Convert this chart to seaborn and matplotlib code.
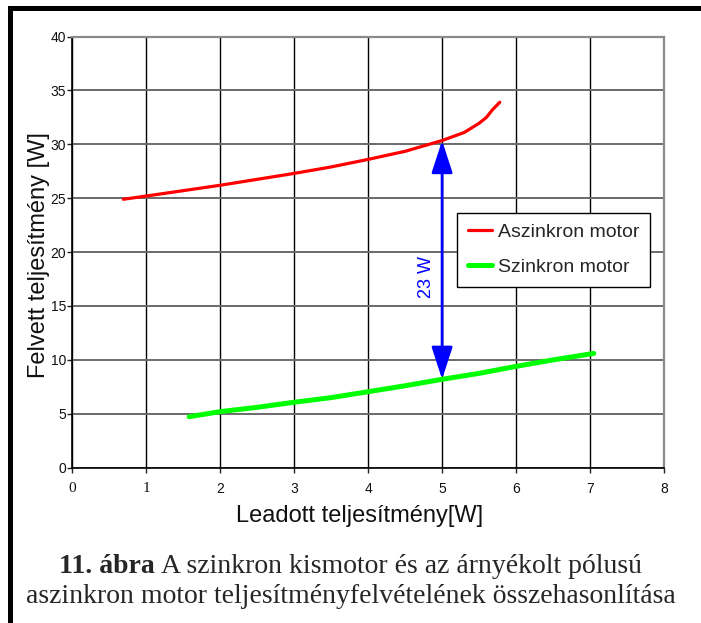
import matplotlib
matplotlib.use('Agg')
import matplotlib.pyplot as plt
import seaborn as sns
import pandas as pd
import numpy as np
from matplotlib.lines import Line2D

# adatok
aszinkron_x = [0.69, 1.0, 1.5, 2.0, 2.5, 3.0, 3.5, 4.0, 4.5, 5.0, 5.3, 5.5, 5.6, 5.68, 5.78]
aszinkron_y = [24.9, 25.2, 25.7, 26.2, 26.75, 27.3, 27.9, 28.6, 29.35, 30.35, 31.1, 31.95, 32.5, 33.2, 33.9]
szinkron_x = [1.58, 2.0, 2.5, 3.0, 3.5, 4.0, 4.5, 5.0, 5.5, 6.0, 6.5, 7.05]
szinkron_y = [4.73, 5.2, 5.6, 6.07, 6.5, 7.05, 7.6, 8.2, 8.75, 9.4, 10.0, 10.6]
sorozatok = ['Aszinkron motor', 'Szinkron motor']
x_ticks = [0, 1, 2, 3, 4, 5, 6, 7, 8]
y_ticks = [0, 5, 10, 15, 20, 25, 30, 35, 40]
kulonbseg_x = 5
kulonbseg_felirat = '23 W'

df = pd.concat([
    pd.DataFrame({'P_le': aszinkron_x, 'P_fel': aszinkron_y, 'motor': sorozatok[0]}),
    pd.DataFrame({'P_le': szinkron_x, 'P_fel': szinkron_y, 'motor': sorozatok[1]}),
])

sns.set_style('white')
plt.rcParams['font.family'] = ['Liberation Sans', 'DejaVu Sans']

fig = plt.figure(figsize=(7.01, 6.23), dpi=100)
ax = fig.add_axes([0.1031, 0.2493, 0.8441, 0.6921])

sns.lineplot(data=df[df.motor == sorozatok[0]], x='P_le', y='P_fel', color='#ff0000',
             lw=2.3, sort=False, estimator=None, label=sorozatok[0], ax=ax)
sns.lineplot(data=df[df.motor == sorozatok[1]], x='P_le', y='P_fel', color='#00ff00',
             lw=3.6, sort=False, estimator=None, label=sorozatok[1], ax=ax)

ax.set_xlim(0, 8)
ax.set_ylim(0, 40)
ax.set_xticks(x_ticks)
ax.set_yticks(y_ticks)
ax.set_xticklabels([str(v) for v in x_ticks], fontsize=10)
ax.set_yticklabels([str(v) for v in y_ticks], fontsize=10)
for lbl in ax.get_xticklabels()[:2]:
    lbl.set_fontfamily('Liberation Serif')
    lbl.set_fontsize(11)
ax.tick_params(axis='both', direction='out', length=3.5, width=1, color='#222222',
               left=True, bottom=True, labelcolor='#111111')
ax.tick_params(axis='x', pad=7)
ax.tick_params(axis='y', pad=1)

ax.xaxis.grid(True, color='#000000', lw=1.0)
ax.yaxis.grid(True, color='#6a6a6a', lw=1.4)
ax.set_axisbelow(True)
for s in ['top', 'right']:
    ax.spines[s].set_color('#8a8a8a')
    ax.spines[s].set_linewidth(1.6)
for s in ['left', 'bottom']:
    ax.spines[s].set_color('#000000')
    ax.spines[s].set_linewidth(1.2)

ax.set_xlabel('Leadott teljesítmény[W]', fontsize=17, color='#111111')
ax.set_ylabel('Felvett teljesítmény [W]', fontsize=17, color='#111111')
ax.xaxis.set_label_coords(0.486, -0.087)
ax.yaxis.set_label_coords(-0.037, 0.493)

# kulonbseg nyil
y_also = np.interp(kulonbseg_x, szinkron_x, szinkron_y)
y_felso = np.interp(kulonbseg_x, aszinkron_x, aszinkron_y)
ax.annotate('', xy=(kulonbseg_x, y_felso), xytext=(kulonbseg_x, y_also),
            arrowprops=dict(arrowstyle='<|-|>,head_length=2.0,head_width=0.65',
                            color='#0000ff', lw=2, shrinkA=0, shrinkB=0, mutation_scale=10))
ax.text(kulonbseg_x - 0.21, 17.7, kulonbseg_felirat, rotation=90, color='#0000ff',
        fontsize=13, ha='center', va='center')

leg = ax.legend(loc='upper left', bbox_to_anchor=(0.650, 0.591), borderaxespad=0,
                fontsize=14, frameon=True, fancybox=False, framealpha=1,
                edgecolor='#000000', handlelength=1.25, handletextpad=0.3,
                labelspacing=0.9, borderpad=0.55)
leg.get_frame().set_linewidth(1.0)

# keret
fig.add_artist(Line2D([0.0136, 0.0136, 1.01], [-0.01, 0.987, 0.987], transform=fig.transFigure,
                      color='black', lw=3.6, solid_joinstyle='miter'))

# abrafelirat
fig.canvas.draw()
r = fig.canvas.get_renderer()
cap_size = 20
t1 = fig.text(0, 0, '11. ábra', fontsize=cap_size, fontweight='bold',
              family='Liberation Serif', va='baseline')
t2 = fig.text(0, 0, 'A szinkron kismotor és az árnyékolt pólusú', fontsize=cap_size,
              family='Liberation Serif', va='baseline')
w1 = t1.get_window_extent(r).width
w2 = t2.get_window_extent(r).width
gap = cap_size * 100 / 72 * 0.25
start = 0.5 * 701 - (w1 + gap + w2) / 2
y1 = 1 - 573 / 623
t1.set_position((start / 701, y1))
t2.set_position(((start + w1 + gap) / 701, y1))
fig.text(0.5, 1 - 603 / 623, 'aszinkron motor teljesítményfelvételének összehasonlítása',
         fontsize=cap_size, family='Liberation Serif', ha='center', va='baseline')

fig.savefig('out.png', dpi=100)
plt.close()
